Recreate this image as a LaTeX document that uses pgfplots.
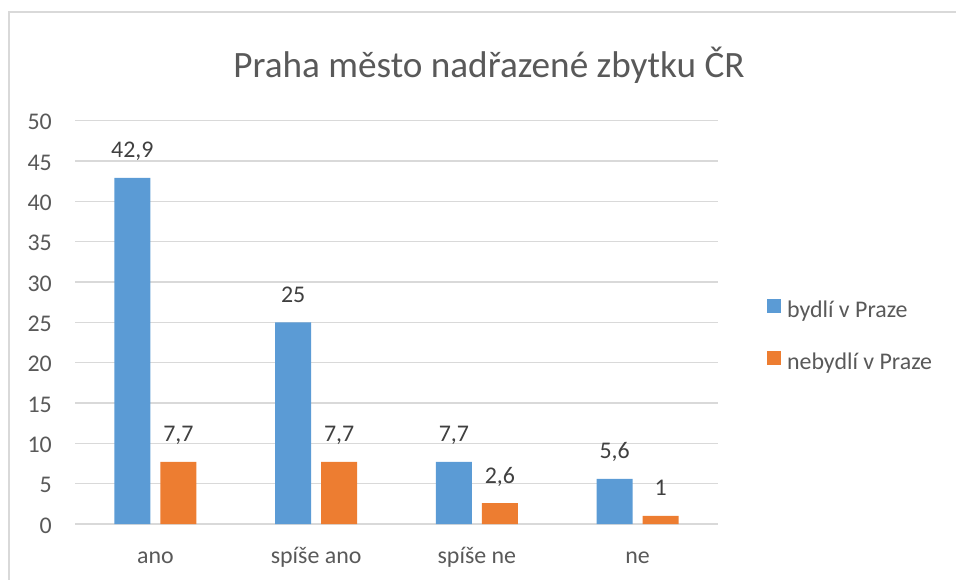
\documentclass[border=0pt]{standalone}
\usepackage{pgfplots}
\pgfplotsset{compat=1.18}
\usepackage{fontspec}
\setmainfont{Carlito}
\definecolor{xblue}{HTML}{5B9BD5}
\definecolor{xorange}{HTML}{ED7D31}
\definecolor{xtext}{HTML}{595959}
\definecolor{xlabel}{HTML}{404040}
\definecolor{xgrid}{HTML}{D9D9D9}

\begin{document}
\begin{tikzpicture}[x=1pt,y=1pt]
\useasboundingbox (0,0) rectangle (956,-580);
% chart frame
\draw[xgrid,line width=1.5pt] (9,-590) -- (9,-12) -- (970,-12);
\node[xtext,anchor=base,inner sep=0pt,font=\fontsize{37.2}{44}\selectfont] at (489,-78) {Praha město nadřazené zbytku ČR};
\begin{axis}[at={(75pt,-524pt)},anchor=south west,
scale only axis,
width=643pt,
height=403.3pt,
ybar=10pt,
bar width=36pt,
xmin=-0.5, xmax=3.5,
ymin=0, ymax=50,
xtick={0,1,2,3},
xticklabels={ano,spíše ano,spíše ne,ne},
ytick={0,5,...,50},
axis line style={draw=none},
major tick length=0pt,
ymajorgrids,
major grid style={xgrid,line width=1.3pt},
/pgf/number format/assume math mode=true,
tick label style={xtext,font=\fontsize{23.9}{28}\selectfont},
xticklabel style={anchor=base,inner sep=0pt,yshift=-39pt},
yticklabel style={anchor=base east,inner sep=0pt,xshift=-23pt,yshift=-9pt},
nodes near coords={\pgfmathprintnumber[use comma,fixed,precision=1,assume math mode=true]{\pgfplotspointmeta}},
every node near coord/.append style={xlabel,anchor=base,inner sep=0pt,yshift=20pt,font=\fontsize{23.9}{28}\selectfont},
legend style={at={(1.076,0.4625)},anchor=west,draw=none,fill=none,inner sep=0pt,
  row sep=28pt,font=\fontsize{23.9}{28}\selectfont,text=xtext,
  nodes={inner sep=0pt,text height=17pt,text depth=6pt}},
legend cell align=left,
legend image code/.code={\fill[#1] (0pt,-1pt) rectangle (14pt,13pt); \path (20pt,0pt);},
]
\addplot[fill=xblue,draw=none] coordinates {(0,42.9) (1,25) (2,7.7) (3,5.6)};
\addlegendentry{bydlí v Praze}
\addplot[fill=xorange,draw=none] coordinates {(0,7.7) (1,7.7) (2,2.6) (3,1)};
\addlegendentry{nebydlí v Praze}
\end{axis}
\end{tikzpicture}
\end{document}
